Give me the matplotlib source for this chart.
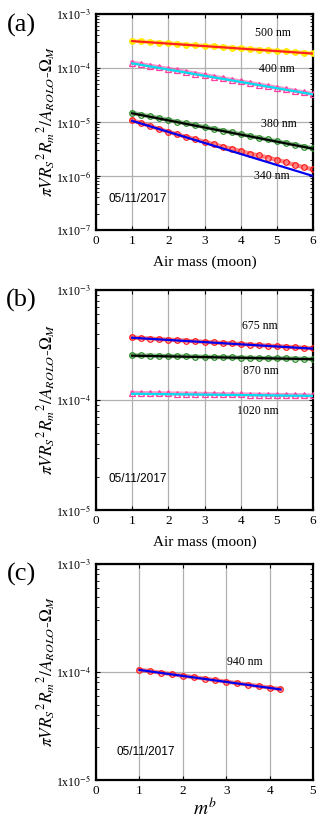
import numpy as np
import matplotlib
matplotlib.use("Agg")
import matplotlib.pyplot as plt
from matplotlib.ticker import FixedLocator, FixedFormatter, LogLocator, NullFormatter

plt.rcParams['font.family'] = ['Liberation Serif', 'DejaVu Serif']
plt.rcParams['mathtext.fontset'] = 'stix'

# ---------------- data ----------------
airmass = [1.0, 1.25, 1.5, 1.75, 2.0, 2.25, 2.5, 2.75, 3.0, 3.25, 3.5,
           3.75, 4.0, 4.25, 4.5, 4.75, 5.0, 5.25, 5.5, 5.75, 6.0]

v500 = [3.20e-4, 3.12e-4, 3.03e-4, 2.95e-4, 2.87e-4, 2.80e-4, 2.72e-4, 2.65e-4, 2.58e-4, 2.51e-4, 2.45e-4,
        2.38e-4, 2.32e-4, 2.26e-4, 2.20e-4, 2.14e-4, 2.08e-4, 2.03e-4, 1.97e-4, 1.92e-4, 1.87e-4]
v400 = [12.6e-5, 11.8e-5, 11.0e-5, 10.3e-5, 9.64e-5, 9.02e-5, 8.43e-5, 7.89e-5, 7.38e-5, 6.90e-5, 6.45e-5,
        6.03e-5, 5.64e-5, 5.28e-5, 4.94e-5, 4.62e-5, 4.32e-5, 4.04e-5, 3.78e-5, 3.53e-5, 3.30e-5]
v380 = [14.8e-6, 13.7e-6, 12.7e-6, 11.8e-6, 10.9e-6, 10.1e-6, 9.39e-6, 8.71e-6, 8.07e-6, 7.48e-6, 6.94e-6,
        6.43e-6, 5.96e-6, 5.53e-6, 5.13e-6, 4.75e-6, 4.40e-6, 4.08e-6, 3.79e-6, 3.51e-6, 3.25e-6]
v340 = [1.08e-5, 9.5e-6, 8.4e-6, 7.4e-6, 6.6e-6, 5.9e-6, 5.3e-6, 4.8e-6, 4.3e-6, 3.9e-6, 3.5e-6,
        3.2e-6, 2.9e-6, 2.6e-6, 2.4e-6, 2.2e-6, 2.0e-6, 1.8e-6, 1.6e-6, 1.45e-6, 1.33e-6]

v675 = [3.70e-4, 3.66e-4, 3.62e-4, 3.58e-4, 3.54e-4, 3.50e-4, 3.46e-4, 3.42e-4, 3.38e-4, 3.34e-4, 3.30e-4,
        3.27e-4, 3.23e-4, 3.19e-4, 3.16e-4, 3.12e-4, 3.09e-4, 3.05e-4, 3.02e-4, 2.98e-4, 2.95e-4]
v870 = [2.55e-4, 2.54e-4, 2.53e-4, 2.52e-4, 2.51e-4, 2.50e-4, 2.49e-4, 2.48e-4, 2.47e-4, 2.46e-4, 2.45e-4,
        2.44e-4, 2.43e-4, 2.42e-4, 2.41e-4, 2.40e-4, 2.40e-4, 2.39e-4, 2.38e-4, 2.37e-4, 2.36e-4]
v1020 = [1.160e-4, 1.157e-4, 1.154e-4, 1.151e-4, 1.148e-4, 1.145e-4, 1.142e-4, 1.139e-4, 1.136e-4, 1.133e-4, 1.130e-4,
         1.127e-4, 1.124e-4, 1.121e-4, 1.118e-4, 1.115e-4, 1.112e-4, 1.109e-4, 1.106e-4, 1.103e-4, 1.100e-4]

mb = [1.0, 1.25, 1.5, 1.75, 2.0, 2.25, 2.5, 2.75, 3.0, 3.25, 3.5, 3.75, 4.0, 4.25]
v940 = [1.050e-4, 1.017e-4, 0.985e-4, 0.954e-4, 0.924e-4, 0.896e-4, 0.868e-4, 0.840e-4,
        0.814e-4, 0.789e-4, 0.764e-4, 0.740e-4, 0.717e-4, 0.694e-4]

# fit lines (value at start, value at end)
fit_x_a = [1.0, 6.0]
fit500 = [3.15e-4, 1.85e-4]
fit400 = [1.22e-4, 3.25e-5]
fit380 = [1.45e-5, 3.2e-6]
fit340 = [1.05e-5, 1.0e-6]
fit675 = [3.68e-4, 2.93e-4]
fit870 = [2.53e-4, 2.35e-4]
fit1020 = [1.14e-4, 1.09e-4]
fit_x_c = [1.0, 4.25]
fit940 = [1.045e-4, 0.69e-4]

W, H = 320, 818
fig = plt.figure(figsize=(W / 100, H / 100), dpi=100)

def axes_px(top, bottom, left=96, right=313):
    return fig.add_axes([left / W, 1 - bottom / H, (right - left) / W, (bottom - top) / H])

ylabel = r'$\pi V R_S{}^2 R_m{}^2/A_{ROLO}$-$\mathit{\Omega}_M$'

def style(ax, decades, xmax, xlabel, xlfs=11, xlpad=6):
    ax.set_yscale('log')
    ax.set_ylim(10.0 ** decades[0], 10.0 ** decades[-1])
    ax.set_xlim(0, xmax)
    ax.yaxis.set_major_locator(FixedLocator([10.0 ** d for d in decades]))
    ax.yaxis.set_major_formatter(FixedFormatter([r'1x10$^{%d}$' % d for d in decades]))
    ax.yaxis.set_minor_locator(LogLocator(base=10, subs=np.arange(2, 10) * 1.0, numticks=20))
    ax.yaxis.set_minor_formatter(NullFormatter())
    ax.set_xticks(range(0, xmax + 1))
    ax.grid(True, which='major', color='#b0b0b0', lw=0.9)
    ax.set_axisbelow(True)
    ax.tick_params(direction='in', which='both', top=True, right=True, labelsize=8.5)
    ax.tick_params(axis='x', labelsize=9.5)
    ax.tick_params(which='major', length=3, width=0.8)
    ax.tick_params(which='minor', length=2, width=0.6)
    for s in ax.spines.values():
        s.set_linewidth(1.6)
    ax.set_ylabel(ylabel, fontsize=12.5)
    ax.yaxis.set_label_coords(-0.175, 0.5)
    ax.set_xlabel(xlabel, fontsize=xlfs, labelpad=xlpad)

def series(ax, x, y, mcol, ecol, marker, fx, fy, lcol):
    ax.plot(x, y, color=ecol, lw=3.0, alpha=0.55, zorder=3)
    ax.plot(x, y, ls='none', marker=marker, ms=4, mfc=mcol, mec=ecol, mew=0.9, zorder=4)
    ax.plot(fx, fy, color=lcol, lw=1.6, zorder=5)

# ---------------- panel (a) ----------------
ax1 = axes_px(14, 230)
style(ax1, [-7, -6, -5, -4, -3], 6, 'Air mass (moon)')
series(ax1, airmass, v500, '#ffff00', '#ffe600', 'o', fit_x_a, fit500, '#ff2020')
series(ax1, airmass, v400, 'none', '#ff3fa0', '^', fit_x_a, fit400, '#00e0f0')
series(ax1, airmass, v380, 'none', '#2e8b2e', 'o', fit_x_a, fit380, '#000000')
series(ax1, airmass, v340, 'none', '#ff1a1a', 'o', fit_x_a, fit340, '#0000ee')
ax1.text(4.9, 4.5e-4, '500 nm', fontsize=8.5, ha='center', va='center')
ax1.text(5.0, 9.6e-5, '400 nm', fontsize=8.5, ha='center', va='center')
ax1.text(5.05, 9.1e-6, '380 nm', fontsize=8.5, ha='center', va='center')
ax1.text(4.85, 1.0e-6, '340 nm', fontsize=8.5, ha='center', va='center')
ax1.text(0.35, 3.8e-7, '05/11/2017', fontsize=8.5, ha='left', va='center', family='Liberation Sans')
fig.text(21 / W, 1 - 25 / H, '(a)', fontsize=19, ha='center', va='center')

# ---------------- panel (b) ----------------
ax2 = axes_px(290, 510)
style(ax2, [-5, -4, -3], 6, 'Air mass (moon)')
series(ax2, airmass, v675, 'none', '#ff1a1a', 'o', fit_x_a, fit675, '#0000ee')
series(ax2, airmass, v870, 'none', '#2e8b2e', 'o', fit_x_a, fit870, '#000000')
series(ax2, airmass, v1020, 'none', '#ff3fa0', '^', fit_x_a, fit1020, '#00e0f0')
ax2.text(4.53, 4.7e-4, '675 nm', fontsize=8.5, ha='center', va='center')
ax2.text(4.56, 1.85e-4, '870 nm', fontsize=8.5, ha='center', va='center')
ax2.text(4.48, 7.9e-5, '1020 nm', fontsize=8.5, ha='center', va='center')
ax2.text(0.35, 1.9e-5, '05/11/2017', fontsize=8.5, ha='left', va='center', family='Liberation Sans')
fig.text(21 / W, 1 - 300 / H, '(b)', fontsize=19, ha='center', va='center')

# ---------------- panel (c) ----------------
ax3 = axes_px(564, 780)
style(ax3, [-5, -4, -3], 5, r'$m^b$', xlfs=14, xlpad=0)
series(ax3, mb, v940, 'none', '#ff1a1a', 'o', fit_x_c, fit940, '#0000ee')
ax3.text(3.43, 1.25e-4, '940 nm', fontsize=8.5, ha='center', va='center')
ax3.text(0.48, 1.82e-5, '05/11/2017', fontsize=8.5, ha='left', va='center', family='Liberation Sans')
fig.text(21 / W, 1 - 574 / H, '(c)', fontsize=19, ha='center', va='center')

fig.savefig('out.png', dpi=100)
